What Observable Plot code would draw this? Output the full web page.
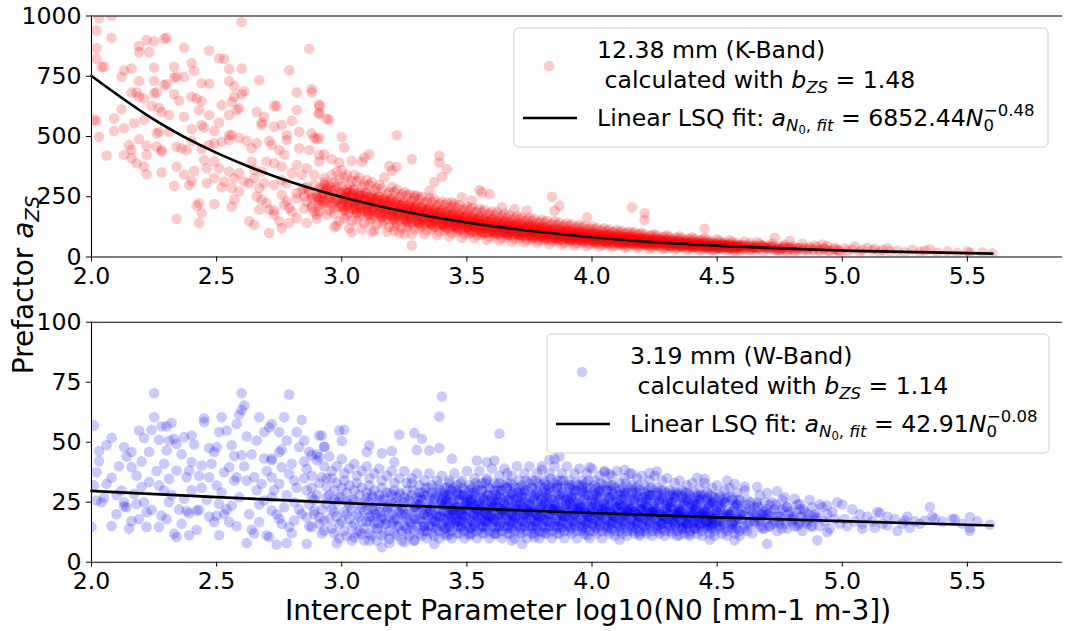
<!DOCTYPE html>
<html><head><meta charset="utf-8">
<script src="https://cdn.jsdelivr.net/npm/d3@7"></script>
<script src="https://cdn.jsdelivr.net/npm/@observablehq/plot@0.6"></script>
<style>
html,body{margin:0;padding:0;background:#fff;}
#wrap{position:relative;width:1075px;height:631px;font-family:"DejaVu Sans";overflow:hidden;}
</style></head><body><div id="wrap"></div>
<script>
// ---------- axes / ticks ----------
const xDomain = [2, 5.88];
const xTicks = [2.0, 2.5, 3.0, 3.5, 4.0, 4.5, 5.0, 5.5];
const kDomain = [0, 1000];
const kTicks = [0, 250, 500, 750, 1000];
const wDomain = [0, 100];
const wTicks = [0, 25, 50, 75, 100];
const xLabel = "Intercept Parameter log10(N0 [mm-1 m-3])";
const yLabel = "Prefactor ";

// ---------- fit curves ----------
const kFitX = [2.0, 2.25, 2.5, 2.75, 3.0, 3.25, 3.5, 3.75, 4.0, 4.25, 4.5, 4.75, 5.0, 5.25, 5.6];
const kFitY = [751, 570, 432, 328, 249, 189, 143, 109, 82, 62, 47, 36, 27, 21, 14];
const wFitX = [2.0, 2.5, 3.0, 3.5, 4.0, 4.5, 5.0, 5.6];
const wFitY = [29.7, 27.1, 24.7, 22.5, 20.5, 18.7, 17.1, 15.3];

// ---------- K-band scatter (x = log10 N0, y = a_ZS) ----------
const kbandPoints = [
[2.03,991],[2.08,1000],[2.02,940],[2.02,867],[2.02,823],[2.04,789],[2.05,789],[2.08,910],[2.6,975],[2.19,875],[2.22,900],[2.25,895],[2.23,850],[2.19,851],[2.29,906],[2.30,910],[2.37,868],[2.47,857],[2.51,825],[2.53,822],[2.55,780],[2.6,782],[2.87,864],[2.79,775],[2.13,775],[2.16,782],[2.25,786],[2.33,789],[2.40,805],[2.41,772],[2.33,744],[2.34,748],[2.37,748],[2.25,730],[2.19,730],[2.12,748],[2.44,721],[2.47,720],[2.55,730],[2.57,709],[2.67,733],[2.61,688],[2.6,675],[2.57,665],[2.82,683],[2.88,697],[2.88,683],[2.16,683],[2.18,683],[2.19,665],[2.21,658],[2.25,679],[2.26,683],[2.29,713],[2.3,718],[2.33,675],[2.35,649],[2.40,665],[2.42,658],[2.44,647],[2.43,610],[2.52,630],[2.56,644],[2.58,610],[2.59,617],[2.12,613],[2.09,575],[2.02,564],[2.01,570],[2.24,627],[2.27,620],[2.28,602],[2.31,589],[2.37,582],[2.47,589],[2.51,558],[2.55,589],[2.66,602],[2.69,582],[2.73,627],[2.74,627],[2.82,610],[2.91,633],[2.91,593],[2.94,572],[2.09,523],[2.13,534],[2.17,555],[2.21,568],[2.26,513],[2.27,520],[2.31,520],[2.40,531],[2.44,548],[2.45,537],[2.49,523],[2.55,506],[2.68,558],[2.68,548],[2.73,541],[2.76,548],[2.78,506],[2.8,565],[2.83,520],[2.88,513],[2.89,495],[2.03,499],[2.19,489],[2.15,465],[2.16,444],[2.22,462],[2.26,458],[2.28,444],[2.22,424],[2.13,424],[2.16,410],[2.18,389],[2.06,421],[2.28,437],[2.34,458],[2.36,451],[2.38,444],[2.40,482],[2.44,448],[2.47,465],[2.49,472],[2.52,478],[2.55,486],[2.56,506],[2.59,495],[2.62,482],[2.64,451],[2.66,472],[2.71,482],[2.72,465],[2.75,444],[2.78,486],[2.83,451],[2.87,444],[2.9,489],[2.21,375],[2.22,343],[2.28,351],[2.34,375],[2.37,341],[2.40,316],[2.39,299],[2.33,295],[2.41,357],[2.45,403],[2.46,368],[2.49,396],[2.51,368],[2.46,306],[2.49,327],[2.52,289],[2.53,313],[2.55,355],[2.57,327],[2.59,348],[2.61,313],[2.56,286],[2.59,272],[2.57,238],[2.63,306],[2.65,327],[2.67,286],[2.66,251],[2.68,238],[2.7,224],[2.71,196],[2.63,148],[2.65,134],[2.69,306],[2.73,299],[2.76,320],[2.76,258],[2.78,231],[2.79,203],[2.77,217],[2.82,244],[2.8,189],[2.82,162],[2.79,141],[2.76,120],[2.71,100],[2.85,286],[2.88,258],[2.91,244],[2.92,286],[2.86,141],[2.9,176],[2.92,217],[2.94,176],[2.43,224],[2.44,182],[2.43,141],[2.34,158],[2.42,213],[2.49,220],[2.56,210],[2.67,196],[2.73,176],[2.75,148],[2.73,193],[2.85,251],[2.88,203],[2.89,189],[2.84,341],[2.86,368],[2.89,341],[2.91,424],[2.91,396],[2.82,382],[2.8,348],[2.76,375],[2.77,424],[2.73,389],[2.7,396],[2.68,355],[2.65,362],[2.64,396],[2.93,327],[2.94,286],[2.92,251],[2.94,231],[2.78,306],[2.84,279],[2.82,265],
[2.86,230],[2.87,270],[2.88,215],[2.89,300],[2.90,250],[2.91,190],[2.92,265],[2.93,225],[2.94,280],[2.85,200],[2.88,245],[2.90,160],[2.93,310],[2.86,290],[2.91,235],
[2.91,626],[2.91,598],[2.95,571],[2.91,495],[3.0,498],[3.01,454],[3.22,505],[2.93,426],[2.96,406],[2.99,392],[3.04,399],[3.08,395],[3.11,426],[3.09,413],[3.19,378],[3.2,358],[3.22,374],[3.28,406],[3.39,420],[3.39,392],[3.42,365],[3.40,333],[3.37,310],[3.35,275],[3.29,255],[3.55,278],[3.56,268],[3.59,261],[3.48,248],[3.52,234],[3.44,227],[3.84,250],[3.87,213],[3.74,193],[3.64,206],[3.69,199],[3.28,48],[3.04,103],[3.12,103],[2.97,124],[3.25,96],[3.21,110],
[3.85,192],[4.16,206],[4.21,182],[4.21,154],[3.98,165],[4.45,117],[4.73,80],[4.79,66],
[2.95,300],[2.96,215],[2.96,340],[2.97,260],[2.97,180],[2.98,290],[2.98,230],[2.99,150],[2.99,320],[2.95,245],[2.96,275],[2.97,205],[2.98,355],[2.99,270],[2.95,195],[2.97,310],[2.98,130],[2.99,240],
[3.00,290],[3.00,210],[3.01,250],[3.01,330],[3.02,175],[3.02,265],[3.03,225],[3.03,300],[3.04,150],[3.04,240],[3.00,360],[3.01,195],[3.02,280],[3.03,120],[3.04,315],[3.00,235],[3.01,270],[3.02,215],[3.03,185],[3.04,260],[3.02,340],[3.01,160],
[3.05,280],[3.05,200],[3.06,240],[3.06,315],[3.07,170],[3.07,255],[3.08,220],[3.08,290],[3.09,140],[3.09,235],[3.05,340],[3.06,185],[3.07,265],[3.08,115],[3.09,300],[3.05,225],[3.06,260],[3.07,205],[3.08,180],[3.09,250],[3.07,330],[3.06,150],
[3.10,265],[3.10,190],[3.11,230],[3.11,300],[3.12,160],[3.12,245],[3.13,210],[3.13,275],[3.14,135],[3.14,220],[3.10,320],[3.11,175],[3.12,255],[3.13,110],[3.14,285],[3.10,215],[3.11,250],[3.12,195],[3.13,170],[3.14,240],[3.12,310],[3.11,145],
[3.15,250],[3.15,180],[3.16,220],[3.16,285],[3.17,150],[3.17,235],[3.18,200],[3.18,260],[3.19,125],[3.19,210],[3.15,300],[3.16,165],[3.17,245],[3.18,105],[3.19,270],[3.15,205],[3.16,240],[3.17,185],[3.18,160],[3.19,230],[3.17,330],[3.16,140],
[3.20,240],[3.20,170],[3.21,210],[3.21,270],[3.22,140],[3.22,225],[3.23,190],[3.23,250],[3.24,120],[3.24,200],[3.20,290],[3.21,155],[3.22,235],[3.23,100],[3.24,260],[3.20,195],[3.21,230],[3.22,175],[3.23,150],[3.24,215],[3.22,280],[3.21,130],
[3.25,225],[3.25,160],[3.26,200],[3.26,255],[3.27,135],[3.27,215],[3.28,180],[3.28,235],[3.29,115],[3.29,190],[3.25,270],[3.26,145],[3.27,220],[3.28,95],[3.29,245],[3.25,185],[3.26,215],[3.27,165],[3.28,140],[3.29,205],[3.27,260],[3.26,125],
[3.30,215],[3.30,150],[3.31,190],[3.31,240],[3.32,130],[3.32,205],[3.33,170],[3.33,225],[3.34,110],[3.34,180],[3.30,255],[3.31,140],[3.32,210],[3.33,95],[3.34,230],[3.30,175],[3.31,205],[3.32,155],[3.33,135],[3.34,195],[3.32,250],[3.31,120],
[3.35,205],[3.35,145],[3.36,180],[3.36,230],[3.37,125],[3.37,195],[3.38,160],[3.38,215],[3.39,105],[3.39,170],[3.35,245],[3.36,135],[3.37,200],[3.38,90],[3.39,220],[3.35,165],[3.36,195],[3.37,150],[3.38,130],[3.39,185],[3.37,240],[3.36,115],
[3.40,195],[3.40,135],[3.41,170],[3.41,215],[3.42,120],[3.42,185],[3.43,150],[3.43,205],[3.44,100],[3.44,160],[3.40,230],[3.41,125],[3.42,190],[3.43,85],[3.44,210],[3.40,155],[3.41,185],[3.42,140],[3.43,120],[3.44,175],[3.42,225],[3.41,110],
[3.45,185],[3.45,130],[3.46,160],[3.46,205],[3.47,112],[3.47,175],[3.48,145],[3.48,195],[3.49,95],[3.49,150],[3.45,220],[3.46,120],[3.47,180],[3.48,80],[3.49,200],[3.45,148],[3.46,175],[3.47,135],[3.48,115],[3.49,165],[3.47,215],[3.46,105],
[3.50,175],[3.50,122],[3.51,150],[3.51,195],[3.52,105],[3.52,165],[3.53,138],[3.53,185],[3.54,90],[3.54,142],[3.50,210],[3.51,112],[3.52,170],[3.53,78],[3.54,190],[3.50,140],[3.51,165],[3.52,128],[3.53,108],[3.54,155],[3.52,205],[3.51,98],
[3.55,165],[3.55,115],[3.56,142],[3.56,185],[3.57,100],[3.57,155],[3.58,130],[3.58,175],[3.59,85],[3.59,135],[3.55,200],[3.56,105],[3.57,160],[3.58,72],[3.59,180],[3.55,132],[3.56,155],[3.57,120],[3.58,102],[3.59,148],[3.57,195],[3.56,92],
[3.60,158],[3.60,108],[3.61,135],[3.61,175],[3.62,95],[3.62,148],[3.63,122],[3.63,165],[3.64,80],[3.64,128],[3.60,190],[3.61,100],[3.62,152],[3.63,68],[3.64,170],[3.60,125],[3.61,148],[3.62,112],[3.63,96],[3.64,140],[3.62,185],[3.61,88],
[3.65,150],[3.65,102],[3.66,128],[3.66,165],[3.67,90],[3.67,140],[3.68,115],[3.68,155],[3.69,76],[3.69,120],[3.65,180],[3.66,95],[3.67,145],[3.68,64],[3.69,160],[3.65,118],[3.66,140],[3.67,106],[3.68,90],[3.69,132],[3.67,175],[3.66,82],
[3.70,142],[3.70,96],[3.71,120],[3.71,158],[3.72,85],[3.72,132],[3.73,110],[3.73,148],[3.74,72],[3.74,114],[3.70,170],[3.71,90],[3.72,138],[3.73,60],[3.74,152],[3.70,112],[3.71,133],[3.72,100],[3.73,86],[3.74,125],[3.72,165],[3.71,78],
[3.75,135],[3.75,90],[3.76,114],[3.76,150],[3.77,80],[3.77,125],[3.78,104],[3.78,140],[3.79,68],[3.79,108],[3.75,162],[3.76,85],[3.77,130],[3.78,57],[3.79,145],[3.75,106],[3.76,126],[3.77,95],[3.78,82],[3.79,118],[3.77,158],[3.76,74],
[3.80,128],[3.80,85],[3.81,108],[3.81,142],[3.82,76],[3.82,118],[3.83,98],[3.83,132],[3.84,64],[3.84,102],[3.80,155],[3.81,80],[3.82,123],[3.83,54],[3.84,138],[3.80,100],[3.81,120],[3.82,90],[3.83,77],[3.84,112],[3.82,150],[3.81,70],
[3.85,122],[3.85,80],[3.86,102],[3.86,135],[3.87,72],[3.87,112],[3.88,93],[3.88,126],[3.89,60],[3.89,97],[3.85,148],[3.86,76],[3.87,117],[3.88,51],[3.89,131],[3.85,95],[3.86,114],[3.87,85],[3.88,73],[3.89,106],[3.87,142],[3.86,66],
[3.90,116],[3.90,76],[3.91,97],[3.91,128],[3.92,68],[3.92,106],[3.93,88],[3.93,120],[3.94,57],[3.94,92],[3.90,140],[3.91,72],[3.92,111],[3.93,48],[3.94,124],[3.90,90],[3.91,108],[3.92,81],[3.93,69],[3.94,100],[3.92,135],[3.91,63],
[3.95,110],[3.95,72],[3.96,92],[3.96,121],[3.97,64],[3.97,100],[3.98,83],[3.98,114],[3.99,54],[3.99,87],[3.95,133],[3.96,68],[3.97,105],[3.98,45],[3.99,118],[3.95,85],[3.96,102],[3.97,77],[3.98,65],[3.99,95],[3.97,128],[3.96,60],
[4.00,104],[4.00,68],[4.01,87],[4.01,114],[4.02,60],[4.02,94],[4.03,78],[4.03,108],[4.04,51],[4.04,82],[4.00,126],[4.01,64],[4.02,99],[4.03,43],[4.04,111],[4.00,80],[4.01,96],[4.02,72],[4.03,61],[4.04,89],[4.02,121],[4.01,56],
[4.05,99],[4.05,64],[4.06,83],[4.06,108],[4.07,57],[4.07,89],[4.08,74],[4.08,102],[4.09,48],[4.09,78],[4.05,119],[4.06,61],[4.07,94],[4.08,41],[4.09,105],[4.05,76],[4.06,91],[4.07,68],[4.08,58],[4.09,85],[4.07,114],[4.06,53],
[4.10,94],[4.10,61],[4.11,78],[4.11,102],[4.12,54],[4.12,85],[4.13,70],[4.13,97],[4.14,45],[4.14,74],[4.10,112],[4.11,58],[4.12,89],[4.13,39],[4.14,100],[4.10,72],[4.11,86],[4.12,65],[4.13,55],[4.14,81],[4.12,108],[4.11,50],
[4.15,89],[4.15,58],[4.16,74],[4.16,97],[4.17,51],[4.17,80],[4.18,66],[4.18,92],[4.19,43],[4.19,70],[4.15,106],[4.16,55],[4.17,84],[4.18,37],[4.19,95],[4.15,68],[4.16,82],[4.17,61],[4.18,52],[4.19,77],[4.17,102],
[4.20,84],[4.20,55],[4.21,70],[4.21,92],[4.22,48],[4.22,76],[4.23,62],[4.23,87],[4.24,40],[4.24,66],[4.20,100],[4.21,52],[4.22,80],[4.23,35],[4.24,90],[4.20,64],[4.21,77],[4.22,58],[4.23,49],[4.24,73],
[4.25,80],[4.25,52],[4.26,66],[4.26,87],[4.27,46],[4.27,72],[4.28,59],[4.28,82],[4.29,38],[4.29,63],[4.25,95],[4.26,49],[4.27,76],[4.28,33],[4.29,85],[4.25,61],[4.26,73],[4.27,55],
[4.30,75],[4.30,49],[4.31,62],[4.31,82],[4.32,43],[4.32,68],[4.33,55],[4.33,77],[4.34,36],[4.34,59],[4.30,90],[4.31,46],[4.32,71],[4.33,31],[4.34,80],[4.30,57],[4.31,69],
[4.35,71],[4.35,46],[4.36,59],[4.36,78],[4.37,41],[4.37,64],[4.38,52],[4.38,73],[4.39,34],[4.39,56],[4.35,86],[4.36,44],[4.37,67],[4.38,30],[4.39,76],[4.35,54],
[4.40,67],[4.40,44],[4.41,56],[4.41,74],[4.42,39],[4.42,61],[4.43,49],[4.43,69],[4.44,32],[4.44,53],[4.40,82],[4.41,41],[4.42,63],[4.43,28],[4.44,72],
[4.45,63],[4.45,41],[4.46,53],[4.46,70],[4.47,37],[4.47,58],[4.48,46],[4.48,65],[4.49,30],[4.49,50],[4.45,78],[4.46,39],[4.47,60],[4.48,27],
[4.50,59],[4.50,39],[4.51,50],[4.51,66],[4.52,35],[4.52,54],[4.53,43],[4.53,61],[4.54,28],[4.54,47],[4.50,73],[4.51,37],[4.52,57],
[4.55,56],[4.55,37],[4.56,47],[4.56,62],[4.57,33],[4.57,51],[4.58,41],[4.58,58],[4.59,27],[4.59,44],[4.55,70],[4.57,25],
[4.60,52],[4.61,35],[4.62,44],[4.63,58],[4.64,31],[4.65,48],[4.66,38],[4.67,55],[4.68,26],[4.69,42],[4.61,64],[4.63,29],[4.66,62],[4.68,47],[4.64,40],
[4.70,48],[4.71,32],[4.72,41],[4.74,29],[4.75,44],[4.76,35],[4.77,51],[4.78,24],[4.79,39],[4.72,56],[4.75,27],
[4.80,44],[4.82,30],[4.83,38],[4.84,55],[4.86,27],[4.87,41],[4.88,33],[4.89,48],[4.81,22],[4.85,36],
[4.90,40],[4.91,28],[4.93,35],[4.94,46],[4.95,25],[4.97,38],[4.98,30],[4.99,20],[4.92,52],
[5.01,36],[5.02,25],[5.04,32],[5.05,44],[5.07,22],[5.08,30],[5.10,38],
[5.12,28],[5.13,34],[5.15,20],[5.16,30],[5.18,36],[5.19,24],
[5.22,26],[5.25,20],[5.28,30],[5.31,22],[5.33,27],[5.35,32],[5.38,18],
[5.42,24],[5.46,17],[5.50,24],[5.51,18],[5.56,20],[5.60,15]
];
// dense core of the K-band cloud near the fit line
const kbandCore = [
[3.005,207],[3.015,243],[3.025,267],[3.035,231],[3.045,279],[3.01,194],[3.03,255],[3.04,219],
[3.055,196],[3.065,230],[3.075,253],[3.085,219],[3.095,265],[3.06,184],[3.08,242],[3.09,207],
[3.105,185],[3.115,218],[3.125,240],[3.135,207],[3.145,251],[3.11,174],[3.13,229],[3.14,196],
[3.155,175],[3.165,206],[3.175,227],[3.185,196],[3.195,237],[3.16,165],[3.18,216],[3.19,185],
[3.205,166],[3.215,195],[3.225,215],[3.235,185],[3.245,224],[3.21,156],[3.23,205],[3.24,176],
[3.255,156],[3.265,184],[3.275,202],[3.285,175],[3.295,212],[3.26,147],[3.28,193],[3.29,166],
[3.305,148],[3.315,174],[3.325,191],[3.335,165],[3.345,200],[3.31,139],[3.33,183],[3.34,157],
[3.355,140],[3.365,165],[3.375,182],[3.385,157],[3.395,190],[3.36,132],[3.38,173],[3.39,149],
[3.405,133],[3.415,156],[3.425,172],[3.435,148],[3.445,179],[3.41,125],[3.43,164],[3.44,140],
[3.455,126],[3.465,148],[3.475,163],[3.485,141],[3.495,170],[3.46,118],[3.48,155],[3.49,133],
[3.505,119],[3.515,140],[3.525,154],[3.535,133],[3.545,161],[3.51,112],[3.53,147],[3.54,126],
[3.555,112],[3.565,132],[3.575,145],[3.585,125],[3.595,152],[3.56,106],[3.58,139],[3.59,119],
[3.605,106],[3.615,125],[3.625,138],[3.635,119],[3.645,144],[3.61,100],[3.63,131],[3.64,113],
[3.655,100],[3.665,118],[3.675,130],[3.685,112],[3.695,136],[3.66,94],[3.68,124],[3.69,106],
[3.705,95],[3.715,112],[3.725,123],[3.735,106],[3.745,129],[3.71,90],[3.73,118],[3.74,101],
[3.755,90],[3.765,106],[3.775,117],[3.785,101],[3.795,122],[3.76,85],[3.78,111],[3.79,95],
[3.805,85],[3.815,100],[3.825,110],[3.835,95],[3.845,115],[3.81,80],[3.83,105],[3.84,90],
[3.855,81],[3.865,95],[3.875,105],[3.885,90],[3.895,109],[3.86,76],[3.88,100],[3.89,86],
[3.905,77],[3.915,90],[3.925,99],[3.935,86],[3.945,104],[3.91,72],[3.93,95],[3.94,81],
[3.955,72],[3.965,85],[3.975,94],[3.985,81],[3.995,98],[3.96,68],[3.98,89],[3.99,77],
[4.005,68],[4.015,80],[4.025,88],[4.035,76],[4.045,92],[4.01,64],[4.03,84],[4.04,72],
[4.055,65],[4.065,76],[4.075,84],[4.085,72],[4.095,87],[4.06,61],[4.08,80],[4.09,68],
[4.105,61],[4.115,72],[4.125,79],[4.135,68],[4.145,83],[4.11,58],[4.13,76],[4.14,65],
[4.155,58],[4.165,68],[4.175,75],[4.185,65],[4.195,78],[4.16,54],[4.18,71],[4.19,61],
[4.205,54],[4.215,64],[4.225,70],[4.235,61],[4.245,74],[4.21,51],[4.23,67],[4.24,58],
[4.255,52],[4.265,61],[4.275,67],[4.285,58],[4.295,70],[4.26,49],[4.28,64],[4.29,55],
[4.305,48],[4.315,57],[4.325,63],[4.335,54],[4.345,66],[4.31,46],[4.33,60],[4.34,51],
[4.355,46],[4.365,54],[4.375,59],[4.385,51],[4.395,62],[4.36,43],[4.38,57],[4.39,49],
[4.405,43],[4.415,51],[4.425,56],[4.435,48],[4.445,59],[4.41,41],[4.43,54],[4.44,46],
[4.455,41],[4.465,48],[4.475,53],[4.485,46],[4.495,55],[4.46,38],[4.48,50],[4.49,43],
[4.505,38],[4.515,45],[4.525,50],[4.535,43],[4.545,52],[4.51,36],[4.53,47],[4.54,41],
[4.555,37],[4.565,43],[4.575,47],[4.585,41],[4.595,49],[4.56,34],[4.58,45],[4.59,39]
];
const kbandCore2 = [
[3.002,219],[3.012,255],[3.022,231],[3.032,272],[3.042,199],[3.007,243],[3.027,214],[3.047,262],
[3.052,207],[3.062,242],[3.072,219],[3.082,258],[3.092,189],[3.057,230],[3.077,202],[3.097,248],
[3.102,196],[3.112,229],[3.122,207],[3.132,244],[3.142,179],[3.107,218],[3.127,192],[3.147,235],
[3.152,185],[3.162,216],[3.172,196],[3.182,231],[3.192,169],[3.157,206],[3.177,181],[3.197,222],
[3.202,176],[3.212,205],[3.222,185],[3.232,218],[3.242,160],[3.207,195],[3.227,172],[3.247,211],
[3.252,166],[3.262,193],[3.272,175],[3.282,206],[3.292,151],[3.257,184],[3.277,162],[3.297,199],
[3.302,157],[3.312,183],[3.322,165],[3.332,195],[3.342,143],[3.307,174],[3.327,153],[3.347,188],
[3.352,149],[3.362,173],[3.372,157],[3.382,185],[3.392,135],[3.357,165],[3.377,145],[3.397,178],
[3.402,140],[3.412,164],[3.422,148],[3.432,175],[3.442,128],[3.407,156],[3.427,137],[3.447,168],
[3.452,133],[3.462,155],[3.472,141],[3.482,166],[3.492,121],[3.457,148],[3.477,130],[3.497,160],
[3.502,126],[3.512,147],[3.522,133],[3.532,157],[3.542,115],[3.507,140],[3.527,123],[3.547,151],
[3.552,119],[3.562,139],[3.572,125],[3.582,148],[3.592,108],[3.557,132],[3.577,116],[3.597,143],
[3.602,113],[3.612,131],[3.622,119],[3.632,140],[3.642,103],[3.607,125],[3.627,110],[3.647,135],
[3.652,106],[3.662,124],[3.672,112],[3.682,132],[3.692,97],[3.657,118],[3.677,104],[3.697,127],
[3.702,101],[3.712,118],[3.722,106],[3.732,125],[3.742,92],[3.707,112],[3.727,99],[3.747,121],
[3.752,95],[3.762,111],[3.772,101],[3.782,119],[3.792,87],[3.757,106],[3.777,93],[3.797,114],
[3.802,90],[3.812,105],[3.822,95],[3.832,112],[3.842,82],[3.807,100],[3.827,88],[3.847,108],
[3.852,86],[3.862,100],[3.872,90],[3.882,106],[3.892,78],[3.857,95],[3.877,84],[3.897,103],
[3.902,81],[3.912,95],[3.922,86],[3.932,101],[3.942,74],[3.907,90],[3.927,79],[3.947,97],
[3.952,77],[3.962,89],[3.972,81],[3.982,95],[3.992,70],[3.957,85],[3.977,75],[3.997,92],
[4.002,72],[4.012,84],[4.022,76],[4.032,90],[4.042,66],[4.007,80],[4.027,70],[4.047,86],
[4.052,68],[4.062,80],[4.072,72],[4.082,85],[4.092,62],[4.057,76],[4.077,67],[4.097,82],
[4.102,65],[4.112,76],[4.122,68],[4.132,81],[4.142,59],[4.107,72],[4.127,63],[4.147,78],
[4.152,61],[4.162,71],[4.172,65],[4.182,76],[4.192,56],[4.157,68],[4.177,60],[4.197,73],
[4.202,58],[4.212,67],[4.222,61],[4.232,72],[4.242,52],[4.207,64],[4.227,56],[4.247,69],
[4.252,55],[4.262,64],[4.272,58],[4.282,68],[4.292,50],[4.257,61],[4.277,54],[4.297,66],
[4.302,51],[4.312,60],[4.322,54],[4.332,64],[4.342,47],[4.307,57],[4.327,50],[4.347,62],
[4.352,49],[4.362,57],[4.372,51],[4.382,60],[4.392,44],[4.357,54],[4.377,48],[4.397,58],
[4.402,46],[4.412,54],[4.422,48],[4.432,57],[4.442,42],[4.407,51],[4.427,45],[4.447,55],
[4.452,43],[4.462,50],[4.472,46],[4.482,54],[4.492,39],[4.457,48],[4.477,42],[4.497,52],
[4.502,41],[4.512,47],[4.522,43],[4.532,50],[4.542,37],[4.507,45],[4.527,40],[4.547,49],
[4.552,39],[4.562,45],[4.572,41],[4.582,48],[4.592,35],[4.557,43],[4.577,38],[4.597,46]
];
// transition zones at both ends of the K-band core
const kbandEdge = [
[2.902,250],[2.912,285],[2.922,230],[2.932,300],[2.942,260],[2.907,215],[2.927,270],[2.947,240],
[2.952,255],[2.962,225],[2.972,280],[2.982,245],[2.992,210],[2.957,290],[2.977,235],[2.997,265],
[4.603,40],[4.613,46],[4.623,36],[4.633,43],[4.643,39],[4.608,33],[4.628,48],[4.648,41],
[4.653,38],[4.663,44],[4.673,34],[4.683,41],[4.693,37],[4.658,31],[4.678,46],[4.698,39],
[4.703,36],[4.713,41],[4.723,32],[4.733,39],[4.743,35],[4.718,44],[4.738,30],
[4.753,34],[4.763,39],[4.773,31],[4.783,37],[4.793,33],[4.768,42],
[4.805,32],[4.825,36],[4.845,30],[4.865,34],[4.885,29],[4.815,38],
[4.905,29],[4.925,33],[4.945,27],[4.965,31],[4.985,28]
];

// ---------- W-band scatter ----------
const wbandPoints = [
[2.25,70.4],[2.6,70.4],[2.79,69.9],[2.01,57],[2.03,46.3],[2.03,42.1],[2.02,37.5],[2.06,48.7],[2.08,51.8],[2.13,48],[2.16,45.9],[2.16,39.6],[2.19,54.9],[2.21,51.8],[2.24,55.2],[2.25,60.4],[2.28,56.6],[2.3,56.6],[2.32,58.1],[2.27,51],[2.31,50.7],[2.33,51.4],[2.34,49.3],[2.3,46.6],[2.37,52.1],[2.4,52.8],[2.41,49],[2.45,60],[2.45,58.4],[2.52,60.4],[2.51,54.2],[2.54,54.9],[2.47,47.6],[2.49,45.9],[2.44,40.3],[2.4,41.7],[2.56,48.7],[2.57,44.2],[2.6,44.6],[2.61,65.3],[2.6,63.4],[2.59,61.5],[2.58,57.6],[2.62,52.4],[2.66,50.7],[2.67,60.4],[2.69,54.2],[2.71,56.2],[2.72,57.6],[2.75,54.2],[2.77,60.4],[2.78,50.7],[2.82,54.2],[2.84,59.3],[2.85,50.7],[2.83,48],[2.92,52.8],[2.93,48],[2.72,43.2],[2.75,45.9],[2.69,43.2],[2.76,39.6],[2.72,42.5],
[2.0,14.7],[2.08,15.1],[2.15,14],[2.16,17.1],[2.13,23.3],[2.14,22.9],[2.18,24.3],[2.22,20.8],[2.24,21.8],[2.28,19.4],[2.22,14.7],[2.27,14.7],[2.33,11.9],[2.34,10.5],[2.38,21.3],[2.39,20.4],[2.42,21.5],[2.36,16],[2.39,11.2],[2.42,13.5],[2.43,21.8],[2.49,16.7],[2.5,19.4],[2.51,11.2],[2.53,20.1],[2.55,16.7],[2.62,8],[2.64,13.5],[2.67,16.7],[2.7,11.2],[2.71,10.5],[2.74,7.4],[2.78,8],[2.76,16],[2.79,14.7],[2.86,7.7],[2.72,21.5],[2.75,18.1],[2.81,17.4],[2.84,20.1],[2.88,14.7],[2.91,16],[2.93,13.2],
[2.01,32],[2.06,32.7],[2.08,35.2],[2.12,29.9],[2.17,28.5],[2.2,31.3],[2.23,33.4],[2.27,32],[2.29,29.9],[2.31,34.7],[2.34,38.2],[2.38,35.4],[2.39,38.2],[2.44,31],[2.47,35.4],[2.5,32],[2.53,37.5],[2.55,39.6],[2.58,35.4],[2.62,34],[2.65,35.4],[2.68,32.7],[2.72,35.4],[2.75,32.7],[2.79,36.8],[2.81,34],[2.86,38.9],[2.88,44.6],[2.9,42.5],[2.92,35.4],[2.94,31.3],[2.02,25.7],[2.04,25],[2.13,25],[2.21,25],[2.31,25],[2.37,26.4],[2.51,24.3],[2.56,23.6],[2.69,25.7],[2.72,27.1],[2.77,22.9],[2.81,25],[2.88,27.1],[2.89,21.5],[2.94,24.3],[2.86,18.7],[2.91,18.7],[2.93,17.4],
[2.05,27],[2.1,20],[2.11,40],[2.14,44],[2.18,36],[2.2,42],[2.23,46],[2.26,38],[2.29,41],[2.32,28],[2.35,22],[2.36,45],[2.4,30],[2.43,36],[2.46,26],[2.48,41],[2.5,48],[2.52,29],[2.54,22],[2.57,34],[2.59,27],[2.61,40],[2.63,20],[2.64,45],[2.66,30],[2.67,24],[2.7,38],[2.73,30],[2.74,20],[2.76,47],[2.78,28],[2.8,41],[2.82,31],[2.83,22],[2.85,35],[2.87,46],[2.89,26],[2.47,19],[2.58,15],[2.65,12],[2.8,12],[2.3,18],[2.19,18],[2.1,28],
[2.86,30],[2.87,24],[2.88,36],[2.89,20],[2.90,28],[2.91,33],[2.92,22],[2.93,40],[2.94,27],[2.85,42],[2.87,15],[2.90,45],[2.92,12],[2.94,35],[2.88,31],
[3.39,60.7],[3.4,69],[3.63,53.5],[2.99,54.9],[3.01,55.2],[3.0,50.5],[3.23,53.2],[3.29,53.8],[3.32,51.4],[3.11,48.7],[3.1,45.9],[3.16,45.4],[3.2,46.3],[3.21,41.7],[3.3,46.8],[3.35,46.5],[3.39,47.6],[3.44,43.1],[3.54,42.4],[3.58,41.7],[3.61,42.4],[3.66,37.1],[3.83,42.7],[3.8,38.5],[2.91,52.8],[2.93,48.2],[2.91,43.8],
[2.98,7.9],[3.16,6.2],[3.11,9],[3.29,9],[3.37,7.6],[3.51,11.1],[3.68,9],[3.72,7.6],[3.77,10.4],[3.8,12.5],[3.05,10.4],[3.08,11.8],[3.19,9.7],[3.25,8.3],[3.43,11.8],[3.61,11.8],
[2.95,28],[2.95,18],[2.96,35],[2.96,22],[2.97,12],[2.97,30],[2.98,25],[2.98,40],[2.99,16],[2.99,27],[2.95,44],[2.96,14],[2.97,21],[2.98,33],[2.99,10],[2.96,38],[2.97,26],[2.98,19],
[3.00,27],[3.00,17],[3.01,34],[3.01,21],[3.02,11],[3.02,29],[3.03,24],[3.03,39],[3.04,15],[3.04,26],[3.00,43],[3.01,13],[3.02,20],[3.03,32],[3.04,9],[3.01,37],[3.02,25],[3.03,18],[3.00,31],[3.04,22],
[3.05,26],[3.05,16],[3.06,33],[3.06,20],[3.07,13],[3.07,28],[3.08,23],[3.08,38],[3.09,14],[3.09,25],[3.05,41],[3.06,12],[3.07,19],[3.08,31],[3.09,9],[3.06,36],[3.07,24],[3.08,17],[3.05,30],[3.09,21],
[3.10,27],[3.10,17],[3.11,32],[3.11,19],[3.12,11],[3.12,28],[3.13,22],[3.13,37],[3.14,14],[3.14,24],[3.10,40],[3.11,12],[3.12,19],[3.13,30],[3.14,9],[3.11,35],[3.12,23],[3.13,16],[3.10,29],[3.14,20],
[3.15,26],[3.15,16],[3.16,31],[3.16,19],[3.17,12],[3.17,27],[3.18,22],[3.18,36],[3.19,13],[3.19,24],[3.15,39],[3.16,11],[3.17,18],[3.18,29],[3.19,8],[3.16,34],[3.17,23],[3.18,16],[3.15,28],[3.19,20],
[3.20,25],[3.20,16],[3.21,30],[3.21,18],[3.22,11],[3.22,27],[3.23,21],[3.23,35],[3.24,13],[3.24,23],[3.20,38],[3.21,12],[3.22,18],[3.23,29],[3.24,9],[3.21,33],[3.22,22],[3.23,15],[3.20,28],[3.24,20],
[3.25,25],[3.25,15],[3.26,30],[3.26,18],[3.27,11],[3.27,26],[3.28,21],[3.28,35],[3.29,13],[3.29,23],[3.25,38],[3.26,12],[3.27,17],[3.28,28],[3.29,9],[3.26,33],[3.27,22],[3.28,15],[3.25,27],[3.29,19],
[3.30,24],[3.30,15],[3.31,29],[3.31,18],[3.32,11],[3.32,26],[3.33,20],[3.33,34],[3.34,13],[3.34,23],[3.30,37],[3.31,12],[3.32,17],[3.33,28],[3.34,10],[3.31,32],[3.32,22],[3.33,15],[3.30,27],[3.34,19],
[3.35,24],[3.35,15],[3.36,29],[3.36,18],[3.37,11],[3.37,26],[3.38,20],[3.38,34],[3.39,13],[3.39,22],[3.35,37],[3.36,12],[3.37,17],[3.38,28],[3.39,10],[3.36,32],[3.37,21],[3.38,15],[3.35,27],[3.39,19],
[3.40,24],[3.40,15],[3.41,29],[3.41,18],[3.42,11],[3.42,26],[3.43,20],[3.43,34],[3.44,13],[3.44,22],[3.40,36],[3.41,12],[3.42,17],[3.43,28],[3.44,10],[3.41,31],[3.42,21],[3.43,15],[3.40,26],[3.44,19],[3.42,24],
[3.45,23],[3.45,16],[3.46,29],[3.46,18],[3.47,12],[3.47,26],[3.48,20],[3.48,34],[3.49,13],[3.49,22],[3.45,37],[3.46,12],[3.47,17],[3.48,28],[3.49,10],[3.46,32],[3.47,21],[3.48,15],[3.45,26],[3.49,19],[3.47,23],
[3.50,24],[3.50,15],[3.51,30],[3.51,18],[3.52,12],[3.52,26],[3.53,20],[3.53,35],[3.54,13],[3.54,22],[3.50,38],[3.51,12],[3.52,17],[3.53,28],[3.54,10],[3.51,32],[3.52,21],[3.53,15],[3.50,26],[3.54,19],[3.52,23],[3.53,24],
[3.55,25],[3.55,14],[3.56,30],[3.56,18],[3.57,12],[3.57,26],[3.58,20],[3.58,35],[3.59,13],[3.59,22],[3.55,38],[3.56,12],[3.57,17],[3.58,28],[3.59,10],[3.56,33],[3.57,21],[3.58,15],[3.55,26],[3.59,19],[3.57,23],[3.58,24],
[3.60,24],[3.60,15],[3.61,30],[3.61,18],[3.62,12],[3.62,26],[3.63,20],[3.63,36],[3.64,13],[3.64,22],[3.60,39],[3.61,12],[3.62,17],[3.63,28],[3.64,10],[3.61,33],[3.62,21],[3.63,15],[3.60,27],[3.64,19],[3.62,23],[3.63,25],
[3.65,24],[3.65,15],[3.66,31],[3.66,18],[3.67,12],[3.67,27],[3.68,20],[3.68,36],[3.69,13],[3.69,22],[3.65,39],[3.66,12],[3.67,17],[3.68,29],[3.69,10],[3.66,33],[3.67,21],[3.68,15],[3.65,27],[3.69,19],[3.67,23],[3.68,25],
[3.70,24],[3.70,15],[3.71,31],[3.71,18],[3.72,12],[3.72,27],[3.73,20],[3.73,37],[3.74,13],[3.74,22],[3.70,40],[3.71,12],[3.72,17],[3.73,29],[3.74,10],[3.71,34],[3.72,21],[3.73,15],[3.70,27],[3.74,19],[3.72,23],[3.73,25],
[3.75,24],[3.75,15],[3.76,31],[3.76,18],[3.77,12],[3.77,27],[3.78,20],[3.78,37],[3.79,13],[3.79,22],[3.75,40],[3.76,12],[3.77,17],[3.78,29],[3.79,10],[3.76,34],[3.77,21],[3.78,15],[3.75,27],[3.79,19],[3.77,23],[3.78,25],
[3.80,24],[3.80,15],[3.81,31],[3.81,18],[3.82,12],[3.82,27],[3.83,20],[3.83,37],[3.84,13],[3.84,22],[3.80,40],[3.81,12],[3.82,17],[3.83,29],[3.84,10],[3.81,34],[3.82,21],[3.83,15],[3.80,27],[3.84,19],[3.82,23],[3.83,25],[3.81,33],
[3.85,24],[3.85,15],[3.86,31],[3.86,18],[3.87,12],[3.87,27],[3.88,20],[3.88,37],[3.89,13],[3.89,22],[3.85,40],[3.86,12],[3.87,17],[3.88,29],[3.89,10],[3.86,34],[3.87,21],[3.88,15],[3.85,27],[3.89,19],[3.87,23],[3.88,25],[3.86,32],
[3.90,24],[3.90,15],[3.91,31],[3.91,18],[3.92,12],[3.92,27],[3.93,20],[3.93,37],[3.94,13],[3.94,22],[3.90,40],[3.91,13],[3.92,17],[3.93,29],[3.94,10],[3.91,34],[3.92,21],[3.93,16],[3.90,27],[3.94,19],[3.92,23],[3.93,25],[3.91,32],
[3.95,23],[3.95,15],[3.96,31],[3.96,18],[3.97,12],[3.97,27],[3.98,20],[3.98,37],[3.99,13],[3.99,22],[3.95,39],[3.96,13],[3.97,17],[3.98,29],[3.99,10],[3.96,34],[3.97,21],[3.98,16],[3.95,27],[3.99,19],[3.97,23],[3.98,25],[3.96,32],
[4.00,23],[4.00,15],[4.01,30],[4.01,18],[4.02,12],[4.02,27],[4.03,20],[4.03,36],[4.04,13],[4.04,22],[4.00,39],[4.01,13],[4.02,17],[4.03,29],[4.04,10],[4.01,34],[4.02,21],[4.03,16],[4.00,26],[4.04,19],[4.02,23],[4.03,25],[4.01,32],
[4.05,23],[4.05,15],[4.06,30],[4.06,18],[4.07,12],[4.07,27],[4.08,20],[4.08,36],[4.09,13],[4.09,22],[4.05,38],[4.06,13],[4.07,17],[4.08,29],[4.09,11],[4.06,33],[4.07,21],[4.08,16],[4.05,26],[4.09,19],[4.07,23],[4.08,25],
[4.10,23],[4.10,15],[4.11,30],[4.11,18],[4.12,12],[4.12,26],[4.13,20],[4.13,35],[4.14,13],[4.14,22],[4.10,38],[4.11,13],[4.12,17],[4.13,28],[4.14,11],[4.11,33],[4.12,21],[4.13,16],[4.10,26],[4.14,19],[4.12,23],[4.13,24],
[4.15,22],[4.15,15],[4.16,30],[4.16,18],[4.17,12],[4.17,26],[4.18,20],[4.18,35],[4.19,13],[4.19,22],[4.15,37],[4.16,13],[4.17,17],[4.18,28],[4.19,11],[4.16,32],[4.17,21],[4.18,16],[4.15,26],[4.19,19],[4.17,23],
[4.20,22],[4.20,15],[4.21,29],[4.21,18],[4.22,12],[4.22,26],[4.23,20],[4.23,34],[4.24,13],[4.24,21],[4.20,36],[4.21,13],[4.22,17],[4.23,28],[4.24,11],[4.21,32],[4.22,21],[4.23,16],[4.20,25],[4.24,19],[4.22,23],
[4.25,22],[4.25,15],[4.26,29],[4.26,18],[4.27,12],[4.27,25],[4.28,20],[4.28,34],[4.29,13],[4.29,21],[4.25,36],[4.26,13],[4.27,17],[4.28,27],[4.29,11],[4.26,31],[4.27,21],[4.28,16],[4.25,25],[4.29,19],
[4.30,22],[4.30,15],[4.31,28],[4.31,18],[4.32,12],[4.32,25],[4.33,20],[4.33,33],[4.34,13],[4.34,21],[4.30,35],[4.31,13],[4.32,17],[4.33,27],[4.34,11],[4.31,30],[4.32,21],[4.33,16],[4.30,24],[4.34,19],
[4.35,21],[4.35,15],[4.36,28],[4.36,17],[4.37,12],[4.37,25],[4.38,19],[4.38,32],[4.39,13],[4.39,21],[4.35,34],[4.36,14],[4.37,17],[4.38,26],[4.39,11],[4.36,30],[4.37,20],[4.38,16],[4.35,24],
[4.40,21],[4.40,15],[4.41,27],[4.41,17],[4.42,12],[4.42,24],[4.43,19],[4.43,31],[4.44,13],[4.44,20],[4.40,33],[4.41,14],[4.42,17],[4.43,26],[4.44,11],[4.41,29],[4.42,20],[4.43,16],[4.40,23],
[4.45,21],[4.45,15],[4.46,27],[4.46,17],[4.47,12],[4.47,24],[4.48,19],[4.48,31],[4.49,13],[4.49,20],[4.45,33],[4.46,14],[4.47,17],[4.48,25],[4.49,11],[4.46,29],[4.47,20],[4.48,16],
[4.50,21],[4.50,15],[4.51,27],[4.51,17],[4.52,12],[4.52,24],[4.53,19],[4.53,30],[4.54,13],[4.54,20],[4.50,32],[4.51,14],[4.52,17],[4.53,25],[4.54,11],[4.51,28],[4.52,20],
[4.55,20],[4.55,15],[4.56,26],[4.56,17],[4.57,12],[4.57,23],[4.58,19],[4.58,29],[4.59,13],[4.59,20],[4.55,31],[4.56,14],[4.57,17],[4.58,24],[4.59,11],[4.56,27],
[4.60,20],[4.61,15],[4.62,26],[4.63,17],[4.64,12],[4.65,23],[4.66,19],[4.67,28],[4.68,14],[4.69,21],[4.61,30],[4.63,22],[4.65,16],[4.67,18],[4.69,25],[4.62,13],[4.66,24],[4.68,20],
[4.70,20],[4.71,15],[4.72,25],[4.73,17],[4.74,13],[4.75,22],[4.76,18],[4.77,27],[4.78,14],[4.79,21],[4.72,19],[4.75,16],[4.78,23],[4.71,24],
[4.80,19],[4.81,15],[4.82,24],[4.83,17],[4.84,13],[4.85,21],[4.86,18],[4.87,26],[4.88,15],[4.89,20],[4.83,22],[4.86,16],
[4.90,19],[4.91,15],[4.92,23],[4.93,17],[4.95,14],[4.96,21],[4.97,18],[4.98,25],[4.99,16],[4.94,20],
[5.01,18],[5.02,15],[5.04,22],[5.05,17],[5.07,20],[5.08,16],[5.10,19],
[5.12,17],[5.14,21],[5.16,16],[5.18,19],
[5.21,18],[5.24,16],[5.26,19],[5.29,17],
[5.31,16],[5.36,19],[5.40,17],[5.45,18],[5.48,16],[5.54,17],
[3.87,44],[3.85,43],[3.99,39.6],[4.05,37.5],[4.07,36.8],[4.13,38.5],[4.16,36.8],[4.23,37.2],[4.26,37.9],[4.42,35.2],[4.45,34.7],[4.54,34],[4.57,32.7],[4.61,31.5],[4.66,31.3],[4.7,28.8],[4.74,29.6],[4.76,26],[4.81,26.4],[4.83,24.3],[4.88,23],[4.91,24],[4.94,23.6],[5.0,24],[5.15,20.5],[5.35,23],[5.44,18.1],[5.51,18.8],[5.59,15.6],[5.51,13],[5.51,14.4],[5.27,14.4],[5.22,13],[5.08,13.9],[5.13,14.4],[5.18,15.3],[5.37,18.1],[5.33,17.4],[5.25,17.4],
[4.11,9.4],[3.98,11.2],[4.19,11.9],[4.47,9.4],[4.57,9.1],[4.7,7.7],[4.9,9.1],[4.94,12.5],[4.35,11.2],[4.39,11.9]
];
// dense core of the W-band cloud
const wbandCore = [
[3.255,20],[3.265,26],[3.275,16],[3.285,30],[3.295,23],[3.26,14],[3.28,33],[3.29,18],
[3.305,22],[3.315,27],[3.325,15],[3.335,31],[3.345,19],[3.31,24],[3.33,13],[3.34,28],
[3.355,21],[3.365,25],[3.375,17],[3.385,32],[3.395,24],[3.36,15],[3.38,29],[3.39,19],
[3.405,23],[3.415,27],[3.425,16],[3.435,30],[3.445,20],[3.41,14],[3.43,33],[3.44,25],
[3.455,20],[3.465,28],[3.475,15],[3.485,31],[3.495,24],[3.46,17],[3.48,22],[3.49,27],
[3.505,22],[3.515,26],[3.525,16],[3.535,33],[3.545,19],[3.51,14],[3.53,29],[3.54,24],
[3.555,21],[3.565,27],[3.575,17],[3.585,31],[3.595,23],[3.56,15],[3.58,34],[3.59,19],
[3.605,23],[3.615,28],[3.625,15],[3.635,30],[3.645,21],[3.61,17],[3.63,33],[3.64,26],
[3.655,20],[3.665,26],[3.675,16],[3.685,32],[3.695,24],[3.66,14],[3.68,29],[3.69,18],
[3.705,22],[3.715,28],[3.725,17],[3.735,34],[3.745,20],[3.71,15],[3.73,30],[3.74,25],
[3.755,21],[3.765,27],[3.775,16],[3.785,33],[3.795,23],[3.76,14],[3.78,30],[3.79,19],
[3.805,23],[3.815,29],[3.825,17],[3.835,35],[3.845,21],[3.81,15],[3.83,31],[3.84,26],
[3.855,22],[3.865,28],[3.875,16],[3.885,34],[3.895,24],[3.86,14],[3.88,31],[3.89,19],
[3.905,21],[3.915,27],[3.925,17],[3.935,33],[3.945,23],[3.91,15],[3.93,30],[3.94,25],
[3.955,23],[3.965,29],[3.975,16],[3.985,34],[3.995,21],[3.96,14],[3.98,31],[3.99,19],
[4.005,22],[4.015,28],[4.025,17],[4.035,33],[4.045,24],[4.01,15],[4.03,30],[4.04,20],
[4.055,21],[4.065,27],[4.075,16],[4.085,32],[4.095,23],[4.06,14],[4.08,30],[4.09,19],
[4.105,22],[4.115,28],[4.125,17],[4.135,33],[4.145,20],[4.11,15],[4.13,29],[4.14,25],
[4.155,21],[4.165,26],[4.175,16],[4.185,32],[4.195,23],[4.16,14],[4.18,29],[4.19,19],
[4.205,22],[4.215,27],[4.225,17],[4.235,31],[4.245,20],[4.21,15],[4.23,28],[4.24,24],
[4.255,21],[4.265,26],[4.275,16],[4.285,30],[4.295,22],[4.26,14],[4.28,28],[4.29,18],
[4.305,20],[4.315,25],[4.325,17],[4.335,29],[4.345,22],[4.31,15],[4.33,27],[4.34,19],
[4.355,21],[4.365,25],[4.375,16],[4.385,29],[4.395,19],[4.36,14],[4.38,27],[4.39,23],
[4.405,20],[4.415,24],[4.425,16],[4.435,28],[4.445,22],[4.41,14],[4.43,26],[4.44,18],
[4.455,19],[4.465,24],[4.475,15],[4.485,27],[4.495,21],[4.46,17],[4.48,25],[4.49,18],
[4.505,20],[4.515,23],[4.525,16],[4.535,27],[4.545,19],[4.51,15],[4.53,25],[4.54,21],
[4.555,19],[4.565,23],[4.575,15],[4.585,26],[4.595,20],[4.56,16],[4.58,24],[4.59,18]
];
const wbandCore2 = [
[3.302,18],[3.312,24],[3.322,29],[3.332,15],[3.342,21],[3.307,26],[3.327,20],[3.347,31],
[3.352,22],[3.362,17],[3.372,27],[3.382,19],[3.392,30],[3.357,23],[3.377,14],[3.397,25],
[3.402,19],[3.412,24],[3.422,28],[3.432,15],[3.442,21],[3.407,27],[3.427,20],[3.447,31],
[3.452,22],[3.462,17],[3.472,28],[3.482,19],[3.492,30],[3.457,23],[3.477,14],[3.497,25],
[3.502,18],[3.512,25],[3.522,29],[3.532,15],[3.542,22],[3.507,26],[3.527,20],[3.547,32],
[3.552,23],[3.562,17],[3.572,27],[3.582,19],[3.592,31],[3.557,22],[3.577,14],[3.597,25],
[3.602,18],[3.612,24],[3.622,30],[3.632,15],[3.642,21],[3.607,26],[3.627,20],[3.647,32],
[3.652,22],[3.662,17],[3.672,28],[3.682,19],[3.692,31],[3.657,23],[3.677,14],[3.697,26],
[3.702,19],[3.712,24],[3.722,30],[3.732,15],[3.742,21],[3.707,27],[3.727,20],[3.747,33],
[3.752,22],[3.762,17],[3.772,28],[3.782,19],[3.792,32],[3.757,23],[3.777,14],[3.797,26],
[3.802,18],[3.812,25],[3.822,30],[3.832,15],[3.842,22],[3.807,27],[3.827,20],[3.847,33],
[3.852,23],[3.862,17],[3.872,28],[3.882,19],[3.892,32],[3.857,22],[3.877,14],[3.897,26],
[3.902,19],[3.912,24],[3.922,30],[3.932,15],[3.942,21],[3.907,26],[3.927,20],[3.947,32],
[3.952,22],[3.962,17],[3.972,28],[3.982,19],[3.992,31],[3.957,23],[3.977,14],[3.997,25],
[4.002,18],[4.012,24],[4.022,29],[4.032,15],[4.042,21],[4.007,26],[4.027,20],[4.047,32],
[4.052,22],[4.062,17],[4.072,27],[4.082,19],[4.092,31],[4.057,23],[4.077,14],[4.097,25],
[4.102,18],[4.112,24],[4.122,29],[4.132,15],[4.142,21],[4.107,26],[4.127,20],[4.147,31],
[4.152,22],[4.162,17],[4.172,27],[4.182,19],[4.192,30],[4.157,22],[4.177,14],[4.197,25],
[4.202,18],[4.212,23],[4.222,28],[4.232,15],[4.242,21],[4.207,25],[4.227,20],[4.247,30],
[4.252,21],[4.262,17],[4.272,26],[4.282,19],[4.292,29],[4.257,22],[4.277,14],[4.297,24],
[4.302,18],[4.312,23],[4.322,28],[4.332,15],[4.342,20],[4.307,25],[4.327,19],[4.347,29],
[4.352,21],[4.362,16],[4.372,26],[4.382,18],[4.392,28],[4.357,22],[4.377,14],[4.397,24],
[4.402,17],[4.412,22],[4.422,27],[4.432,15],[4.442,20],[4.407,24],[4.427,19],[4.447,28],
[4.452,21],[4.462,16],[4.472,25],[4.482,18],[4.492,27],[4.457,21],[4.477,14],[4.497,23],
[4.502,17],[4.512,22],[4.522,26],[4.532,14],[4.542,20],[4.507,24],[4.527,18],[4.547,27],
[4.552,20],[4.562,16],[4.572,24],[4.582,18],[4.592,26],[4.557,21],[4.577,14],[4.597,22]
];
const wbandCore3 = [
[3.401,16],[3.405,28],[3.409,21],[3.413,25],[3.417,14],[3.421,31],[3.425,19],[3.429,23],[3.433,27],[3.437,17],[3.441,30],[3.445,22],
[3.451,24],[3.455,18],[3.459,30],[3.463,15],[3.467,26],[3.471,21],[3.475,33],[3.479,20],[3.483,17],[3.487,28],[3.491,23],[3.495,19],
[3.501,16],[3.505,28],[3.509,22],[3.513,25],[3.517,14],[3.521,31],[3.525,19],[3.529,23],[3.533,27],[3.537,17],[3.541,30],[3.545,21],
[3.551,24],[3.555,18],[3.559,30],[3.563,15],[3.567,26],[3.571,21],[3.575,33],[3.579,20],[3.583,17],[3.587,28],[3.591,23],[3.595,19],
[3.601,17],[3.605,28],[3.609,21],[3.613,25],[3.617,14],[3.621,32],[3.625,19],[3.629,23],[3.633,27],[3.637,17],[3.641,30],[3.645,22],
[3.651,24],[3.655,18],[3.659,31],[3.663,15],[3.667,26],[3.671,21],[3.675,33],[3.679,20],[3.683,17],[3.687,28],[3.691,23],[3.695,19],
[3.701,16],[3.705,29],[3.709,22],[3.713,25],[3.717,14],[3.721,32],[3.725,19],[3.729,23],[3.733,27],[3.737,17],[3.741,30],[3.745,21],
[3.751,24],[3.755,18],[3.759,31],[3.763,15],[3.767,26],[3.771,21],[3.775,34],[3.779,20],[3.783,17],[3.787,28],[3.791,23],[3.795,19],
[3.801,17],[3.805,29],[3.809,21],[3.813,25],[3.817,14],[3.821,32],[3.825,19],[3.829,23],[3.833,27],[3.837,17],[3.841,31],[3.845,22],
[3.851,24],[3.855,18],[3.859,31],[3.863,15],[3.867,26],[3.871,21],[3.875,34],[3.879,20],[3.883,17],[3.887,28],[3.891,23],[3.895,19],
[3.901,16],[3.905,28],[3.909,22],[3.913,25],[3.917,14],[3.921,32],[3.925,19],[3.929,23],[3.933,27],[3.937,17],[3.941,30],[3.945,21],
[3.951,24],[3.955,18],[3.959,30],[3.963,15],[3.967,26],[3.971,21],[3.975,33],[3.979,20],[3.983,17],[3.987,28],[3.991,23],[3.995,19],
[4.001,16],[4.005,28],[4.009,21],[4.013,25],[4.017,14],[4.021,31],[4.025,19],[4.029,23],[4.033,27],[4.037,17],[4.041,30],[4.045,22],
[4.051,24],[4.055,18],[4.059,30],[4.063,15],[4.067,26],[4.071,21],[4.075,32],[4.079,20],[4.083,17],[4.087,28],[4.091,23],[4.095,19],
[4.101,16],[4.105,28],[4.109,21],[4.113,24],[4.117,14],[4.121,31],[4.125,19],[4.129,23],[4.133,27],[4.137,17],[4.141,29],[4.145,21],
[4.151,23],[4.155,18],[4.159,29],[4.163,15],[4.167,25],[4.171,21],[4.175,31],[4.179,20],[4.183,17],[4.187,27],[4.191,22],[4.195,19],
[4.201,16],[4.205,27],[4.209,21],[4.213,24],[4.217,14],[4.221,30],[4.225,19],[4.229,22],[4.233,26],[4.237,17],[4.241,28],[4.245,21],
[4.251,23],[4.255,18],[4.259,28],[4.263,15],[4.267,25],[4.271,20],[4.275,30],[4.279,19],[4.283,16],[4.287,26],[4.291,22],[4.295,18],
[4.301,16],[4.305,26],[4.309,20],[4.313,23],[4.317,14],[4.321,29],[4.325,18],[4.329,22],[4.333,25],[4.337,17],[4.341,28],[4.345,20],
[4.351,22],[4.355,17],[4.359,27],[4.363,15],[4.367,24],[4.371,20],[4.375,29],[4.379,19],[4.383,16],[4.387,25],[4.391,21],[4.395,18],
[4.401,16],[4.405,25],[4.409,20],[4.413,22],[4.417,14],[4.421,28],[4.425,18],[4.429,21],[4.433,24],[4.437,16],[4.441,27],[4.445,20],
[4.451,22],[4.455,17],[4.459,26],[4.463,15],[4.467,23],[4.471,19],[4.475,28],[4.479,18],[4.483,16],[4.487,24],[4.491,20],[4.495,17]
];
// transition zones at both ends of the W-band core
const wbandEdge = [
[3.103,22],[3.113,17],[3.123,27],[3.133,20],[3.143,14],[3.108,25],
[3.153,21],[3.163,26],[3.173,16],[3.183,23],[3.193,29],[3.158,18],
[3.203,20],[3.213,25],[3.223,15],[3.233,28],[3.243,22],[3.208,17],[3.228,24],[3.248,19],
[4.603,18],[4.613,22],[4.623,16],[4.633,25],[4.643,20],[4.608,14],[4.618,24],[4.628,19],[4.638,21],[4.648,17],
[4.653,19],[4.663,23],[4.673,15],[4.683,21],[4.693,18],[4.658,25],[4.668,17],[4.678,20],[4.688,14],[4.698,22],
[4.703,18],[4.713,21],[4.723,16],[4.733,24],[4.743,19],[4.708,15],[4.728,22],[4.748,17],
[4.753,19],[4.763,22],[4.773,16],[4.783,20],[4.793,18],[4.758,14],[4.778,23],[4.798,17],
[4.805,18],[4.815,21],[4.825,16],[4.835,19],[4.845,22],[4.82,15],
[4.855,17],[4.865,20],[4.875,15],[4.885,19],[4.895,18]
];

// ---------- legend labels ----------
const kLegend = {
  line1: [{t:"12.38 mm (K-Band)"}],
  line2: [{t:" calculated with "},{t:"b",i:1},{t:"ZS",i:1,s:16.5,dy:5},{t:" = 1.48",dy:-5}],
  line3: [{t:"Linear LSQ fit: "},{t:"a",i:1},{t:"N",i:1,s:16.5,dy:5},{t:"0",s:11.6,dy:3},{t:", ",s:16.5,dy:-3},{t:"fit",i:1,s:16.5},{t:" = 6852.44",dy:-5},{t:"N",i:1},{t:"0",s:16.5,dy:5},{t:"\u22120.48",s:16.5,dy:-15,dx:-10}]
};
const wLegend = {
  line1: [{t:"3.19 mm (W-Band)"}],
  line2: [{t:" calculated with "},{t:"b",i:1},{t:"ZS",i:1,s:16.5,dy:5},{t:" = 1.14",dy:-5}],
  line3: [{t:"Linear LSQ fit: "},{t:"a",i:1},{t:"N",i:1,s:16.5,dy:5},{t:"0",s:11.6,dy:3},{t:", ",s:16.5,dy:-3},{t:"fit",i:1,s:16.5},{t:" = 42.91",dy:-5},{t:"N",i:1},{t:"0",s:16.5,dy:5},{t:"\u22120.08",s:16.5,dy:-15,dx:-10}]
};

const FS = 23.6;
const LABEL_FS = 28;
const wrap = document.getElementById("wrap");

function panel(points, color, fitX, fitY, yDomain, yTicks, height, mt, mb) {
  const fit = fitX.map((x, i) => ({x, y: fitY[i]}));
  return Plot.plot({
    width: 1075, height, marginLeft: 91, marginRight: 13, marginTop: mt, marginBottom: mb,
    style: {fontFamily: '"DejaVu Sans"', fontSize: FS + "px", color: "#000", background: "transparent", overflow: "visible"},
    x: {domain: xDomain, ticks: xTicks, tickFormat: d => d.toFixed(1), tickSize: 5, tickPadding: 5, label: null},
    y: {domain: yDomain, ticks: yTicks, tickFormat: d => String(d), tickSize: 5, tickPadding: 5, label: null},
    marks: [
      Plot.dot(points, {x: d => d[0], y: d => d[1], r: 5.3, fill: color, fillOpacity: 0.21, clip: true}),
      Plot.line(fit, {x: "x", y: "y", stroke: "black", strokeWidth: 2.7, curve: "natural"}),
      Plot.ruleX([xDomain[0]], {stroke: "black", strokeWidth: 1.1}),
      Plot.ruleY([yDomain[0]], {stroke: "black", strokeWidth: 1.1}),
      Plot.ruleY([yDomain[1]], {stroke: "black", strokeWidth: 1.1})
    ]
  });
}

const topPlot = panel(kbandPoints.concat(kbandCore, kbandCore2, kbandEdge), "red", kFitX, kFitY, kDomain, kTicks, 300, 15.5, 43.5);
topPlot.style.position = "absolute"; topPlot.style.left = "0px"; topPlot.style.top = "0px";
wrap.appendChild(topPlot);
const botPlot = panel(wbandPoints.concat(wbandCore, wbandCore2, wbandCore3, wbandEdge), "blue", wFitX, wFitY, wDomain, wTicks, 331, 21.7, 69.3);
botPlot.style.position = "absolute"; botPlot.style.left = "0px"; botPlot.style.top = "300px";
wrap.appendChild(botPlot);

// ---------- overlay: legends and axis labels ----------
const overlay = d3.create("svg").attr("width", 1075).attr("height", 631)
  .style("position", "absolute").style("left", "0px").style("top", "0px")
  .style("font-family", '"DejaVu Sans"').style("font-size", FS + "px").style("overflow", "visible");
wrap.appendChild(overlay.node());

function rich(g, x, y, parts) {
  const t = g.append("text").attr("x", x).attr("y", y).attr("fill", "#000").style("white-space", "pre");
  for (const p of parts) {
    const s = t.append("tspan").text(p.t);
    if (p.i) s.attr("font-style", "italic");
    if (p.s) s.attr("font-size", p.s);
    if (p.dy) s.attr("dy", p.dy);
    if (p.dx) s.attr("dx", p.dx);
  }
  return t;
}

function legend(cfg, color, x0, y0, x1) {
  const g = overlay.append("g");
  g.append("rect").attr("x", x0).attr("y", y0).attr("width", x1 - x0).attr("height", 119).attr("rx", 4.5)
    .attr("fill", "white").attr("fill-opacity", 0.8).attr("stroke", "#cccccc").attr("stroke-width", 1);
  g.append("circle").attr("cx", x0 + 35).attr("cy", y0 + 38).attr("r", 5.3)
    .attr("fill", color).attr("fill-opacity", 0.21);
  g.append("line").attr("x1", x0 + 9).attr("x2", x0 + 63).attr("y1", y0 + 90).attr("y2", y0 + 90)
    .attr("stroke", "black").attr("stroke-width", 2.7);
  const tx = x0 + 83;
  rich(g, tx, y0 + 29.5, cfg.line1);
  rich(g, tx, y0 + 59.5, cfg.line2);
  rich(g, tx, y0 + 98, cfg.line3);
}

legend(kLegend, "red", 514, 28, 1048);
legend(wLegend, "blue", 547, 334, 1049);

// y label
const yl = overlay.append("text").attr("transform", "translate(33,285) rotate(-90)").attr("text-anchor", "middle")
  .attr("fill", "#000").style("font-size", LABEL_FS + "px");
yl.append("tspan").text(yLabel);
yl.append("tspan").text("a").attr("font-style", "italic");
yl.append("tspan").text("ZS").attr("font-style", "italic").attr("font-size", 19.6).attr("dy", 6);

// x label
overlay.append("text").attr("x", 588).attr("y", 620).attr("text-anchor", "middle").attr("fill", "#000")
  .style("font-size", LABEL_FS + "px").text(xLabel);
</script></body></html>
